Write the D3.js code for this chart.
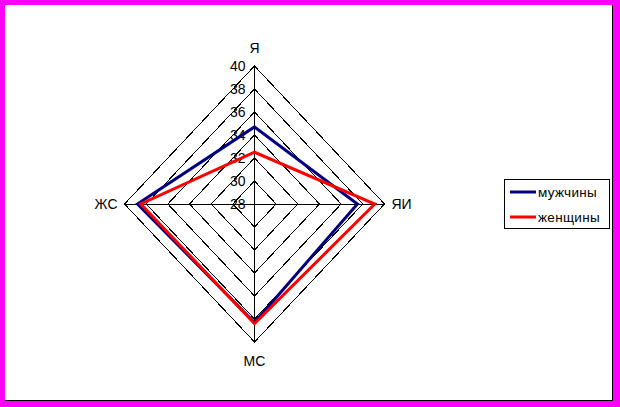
<!DOCTYPE html>
<html><head><meta charset="utf-8">
<script src="https://cdn.jsdelivr.net/npm/d3@7"></script>
<style>html,body{margin:0;padding:0;background:#fff}svg{display:block}</style>
</head><body>
<svg id="c" width="620" height="407"></svg>
<script>
const categories = ["Я", "ЯИ", "МС", "ЖС"];
const men = [34.7, 37.5, 38.3, 38.8];
const women = [32.5, 39.1, 38.4, 38.5];
const seriesNames = ["мужчины", "женщины"];
const seriesColors = ["#000080", "#FF0000"];
const ticks = [28, 30, 32, 34, 36, 38, 40];

const svg = d3.select("#c");
// frame
svg.append("rect").attr("x",0).attr("y",0).attr("width",620).attr("height",407).attr("fill","#FF00FF");
svg.append("rect").attr("x",5).attr("y",5).attr("width",608).attr("height",396).attr("fill","#000");
svg.append("rect").attr("x",5).attr("y",5).attr("width",607).attr("height",395).attr("fill","#fff");

const cx = 254.5, cy = 204, rx = 130, ry = 138;
const r = d3.scaleLinear().domain([28, 40]).range([0, 1]);
const angle = d3.scalePoint().domain(categories).range([0, 2*Math.PI*3/4]);
function pt(cat, v) {
  const a = angle(cat);
  return [cx + Math.sin(a) * r(v) * rx, cy - Math.cos(a) * r(v) * ry];
}
const g = svg.append("g");
// rings
ticks.slice(1).forEach(t => {
  g.append("path")
    .attr("d", d3.line()(categories.map(c => pt(c, t))) + "Z")
    .attr("fill", "none").attr("stroke", "#000").attr("stroke-width", 1)
    .attr("shape-rendering", "crispEdges");
});
// spokes
categories.forEach(c => {
  const p = pt(c, 40);
  g.append("line").attr("x1", cx).attr("y1", cy).attr("x2", p[0]).attr("y2", p[1])
    .attr("stroke", "#000").attr("stroke-width", 1).attr("shape-rendering", "crispEdges");
});
// tick labels
ticks.forEach(t => {
  g.append("text").attr("x", cx - 9).attr("y", cy - r(t) * ry)
    .attr("dy", "0.36em").attr("text-anchor", "end")
    .attr("font-family", "Liberation Sans, Arial, sans-serif").attr("font-size", 14)
    .attr("fill", "#000").text(t);
});
// category labels
const labelOffsets = {"Я": [0, -18.5], "ЯИ": [7, 0], "МС": [0, 18.5], "ЖС": [-7, 0]};
const anchors = {"Я": "middle", "ЯИ": "start", "МС": "middle", "ЖС": "end"};
categories.forEach(c => {
  const p = pt(c, 40);
  g.append("text").attr("x", p[0] + labelOffsets[c][0]).attr("y", p[1] + labelOffsets[c][1])
    .attr("dy", "0.36em").attr("text-anchor", anchors[c])
    .attr("font-family", "Liberation Sans, Arial, sans-serif").attr("font-size", 14)
    .attr("fill", "#000").text(c);
});
// series
[men, women].forEach((vals, i) => {
  g.append("path")
    .attr("d", d3.line()(categories.map((c, j) => pt(c, vals[j]))) + "Z")
    .attr("fill", "none").attr("stroke", seriesColors[i]).attr("stroke-width", 3)
    .attr("stroke-linejoin", "miter");
});
// legend
const lg = svg.append("g");
lg.append("rect").attr("x", 504.5).attr("y", 179.5).attr("width", 105).attr("height", 49)
  .attr("fill", "#fff").attr("stroke", "#000").attr("stroke-width", 1);
seriesNames.forEach((n, i) => {
  const y = 192 + i * 25;
  lg.append("line").attr("x1", 510).attr("x2", 536).attr("y1", y).attr("y2", y)
    .attr("stroke", seriesColors[i]).attr("stroke-width", 3);
  lg.append("text").attr("x", 538).attr("y", y).attr("dy", "0.36em")
    .attr("font-family", "Liberation Sans, Arial, sans-serif").attr("font-size", 13.5)
    .attr("letter-spacing", 0.3)
    .attr("fill", "#000").text(n);
});
</script>
</body></html>
